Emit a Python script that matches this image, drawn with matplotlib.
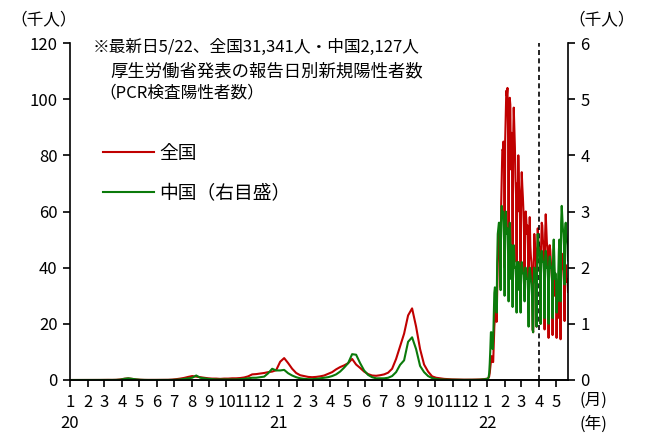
import matplotlib
matplotlib.use('Agg')
import matplotlib.pyplot as plt
import pandas as pd

plt.rcParams['font.family'] = ['Noto Sans CJK JP', 'DejaVu Sans']

# weekly points 2020-01-05 .. 2021-12-26 (thousand persons)
zenkoku_weekly = [
    0, 0, 0, 0, 0, 0.01, 0.01, 0.02, 0.04, 0.05, 0.04, 0.07, 0.2, 0.45, 0.55, 0.4, 0.2, 0.1,
    0.04, 0.03, 0.03, 0.04, 0.04, 0.05, 0.07, 0.15, 0.3, 0.5, 0.75, 1.1, 1.4, 1.2, 1.0, 0.8,
    0.6, 0.5, 0.5, 0.4, 0.5, 0.5, 0.6, 0.6, 0.7, 0.9, 1.3, 2.0, 2.1, 2.3, 2.5, 2.8, 3.0, 3.5,
    6.5, 7.8, 6.0, 4.0, 2.5, 1.7, 1.4, 1.1, 1.0, 1.1, 1.3, 1.6, 2.2, 2.8, 3.8, 4.6, 5.2, 6.0,
    7.5, 5.5, 4.3, 3.0, 2.1, 1.6, 1.5, 1.7, 2.0, 2.6, 4.0, 7.5, 12.0, 16.5, 23.0, 25.5, 19.0,
    11.0, 5.5, 3.0, 1.3, 0.8, 0.6, 0.4, 0.3, 0.22, 0.18, 0.15, 0.12, 0.12, 0.13, 0.16, 0.2, 0.3,
]
chugoku_weekly = [
    0, 0, 0, 0, 0, 0, 0, 0, 0, 0.001, 0.001, 0.002, 0.005, 0.02, 0.03, 0.02, 0.01, 0.003,
    0.001, 0, 0, 0, 0, 0, 0.001, 0.002, 0.005, 0.01, 0.02, 0.03, 0.04, 0.08, 0.04, 0.03,
    0.02, 0.015, 0.01, 0.01, 0.01, 0.01, 0.01, 0.01, 0.015, 0.02, 0.03, 0.04, 0.04, 0.05,
    0.06, 0.12, 0.2, 0.17,
    0.17, 0.18, 0.12, 0.08, 0.05, 0.03, 0.02, 0.015, 0.015, 0.02, 0.03, 0.04, 0.05, 0.07,
    0.1, 0.15, 0.22, 0.3, 0.46, 0.45, 0.3, 0.17, 0.09, 0.05, 0.03, 0.03, 0.03, 0.04, 0.07,
    0.14, 0.27, 0.35, 0.68, 0.76, 0.55, 0.25, 0.14, 0.07, 0.035, 0.02, 0.01, 0.007, 0.005,
    0.004, 0.003, 0.003, 0.002, 0.002, 0.002, 0.003, 0.005, 0.012,
]

# daily 2022-01-01 .. 2022-05-22
zenkoku_2022 = [
    0.5, 0.6, 0.8, 1.3, 2.6, 4.5, 6.2,
    8.5, 8.2, 6.4, 6.4, 13.2, 18.9, 22.0,
    25.7, 25.6, 20.7, 32.2, 41.5, 46.2, 49.9,
    54.6, 50.0, 33.0, 62.6, 71.6, 82.0, 81.8,
    84.9, 78.2, 40.0, 85.4, 95.0, 103.0, 101.3,
    104.0, 89.0, 52.0, 96.0, 100.5, 98.0, 75.0,
    88.0, 79.0, 48.0, 86.0, 97.0, 90.0, 83.0,
    72.0, 66.0, 42.0, 70.0, 60.0, 80.0, 70.0,
    65.0, 57.0, 36.0, 66.0, 74.0, 69.0, 65.0,
    60.0, 52.0, 30.0, 58.0, 60.0, 57.0, 52.0,
    55.0, 46.0, 24.0, 50.0, 58.0, 48.0, 44.0,
    42.0, 36.0, 18.0, 17.0, 41.0, 52.0, 48.0,
    46.0, 42.0, 19.0, 44.0, 54.0, 50.0, 48.0,
    47.0, 42.0, 20.0, 48.0, 56.0, 55.0, 50.0,
    48.0, 44.0, 18.0, 52.0, 59.0, 54.0, 49.0,
    47.0, 40.0, 15.0, 44.0, 48.0, 46.0, 42.0,
    40.0, 36.0, 16.0, 40.0, 42.0, 38.0, 30.0,
    34.0, 30.0, 15.0, 28.0, 22.0, 26.0, 38.0,
    40.0, 33.0, 14.5, 42.0, 45.0, 43.0, 40.0,
    39.0, 35.0, 21.0, 40.0, 41.0, 37.0, 35.0,
    36.0, 31.341,
]
chugoku_2022 = [
    0.02, 0.03, 0.05, 0.12, 0.30, 0.55, 0.85,
    0.85, 0.75, 0.55, 0.7, 1.1, 1.55, 1.65,
    1.6, 1.5, 1.2, 2.1, 2.6, 2.7, 2.8,
    2.8, 2.6, 1.6, 2.9, 3.1, 2.9, 3.0,
    2.8, 2.5, 1.5, 2.6, 3.0, 2.7, 2.6,
    2.7, 2.3, 1.4, 2.5, 2.8, 2.5, 1.8,
    2.4, 2.0, 1.3, 2.2, 2.4, 2.2, 2.0,
    2.0, 1.8, 1.2, 2.1, 1.6, 2.1, 2.0,
    1.9, 1.7, 1.2, 2.0, 2.1, 2.0, 1.9,
    1.9, 1.7, 1.4, 2.0, 2.0, 1.9, 1.8,
    1.8, 1.6, 0.95, 1.9, 2.0, 1.9, 1.8,
    1.7, 1.5, 0.9, 0.85, 1.8, 2.0, 1.9,
    1.8, 1.7, 0.95, 2.1, 2.6, 2.4, 2.3,
    2.2, 2.0, 1.0, 2.2, 2.3, 2.2, 2.1,
    2.1, 1.9, 1.1, 2.2, 2.3, 2.2, 2.0,
    2.0, 1.8, 1.0, 2.1, 2.2, 2.1, 2.0,
    2.0, 1.8, 1.1, 2.3, 2.5, 2.2, 1.8,
    1.9, 1.8, 1.2, 1.6, 1.4, 1.9, 2.3,
    2.5, 2.3, 1.4, 2.8, 3.1, 2.9, 2.7,
    2.6, 2.4, 1.7, 2.7, 2.8, 2.6, 2.5,
    2.4, 2.127,
]

dates = pd.date_range('2020-01-05', periods=len(zenkoku_weekly), freq='7D').append(
    pd.date_range('2022-01-01', periods=len(zenkoku_2022), freq='D'))
zenkoku = zenkoku_weekly + zenkoku_2022
chugoku = chugoku_weekly + chugoku_2022

month_starts = pd.date_range('2020-01-01', '2022-05-01', freq='MS')
month_labels = [str(d.month) for d in month_starts]
year_labels = ['20', '21', '22']
year_dates = pd.to_datetime(['2020-01-01', '2021-01-01', '2022-01-01'])

W, H = 647, 434
fig = plt.figure(figsize=(W / 100, H / 100), dpi=100)
ax = fig.add_axes([70 / W, 1 - 380 / H, (568 - 70) / W, (380 - 43) / H])

red, green = '#C00000', '#0B7A0B'
l1, = ax.plot(dates, zenkoku, color=red, lw=1.5, label='全国')
ax.set_ylim(0, 120)
ax.set_yticks(range(0, 121, 20))
ax.set_xlim(pd.Timestamp('2020-01-01'), pd.Timestamp('2022-05-22'))
ax.set_xticks(month_starts)
ax.set_xticklabels(month_labels)
ax.axvline(pd.Timestamp('2022-04-01'), color='black', lw=1.2, ls=(0, (3, 2)))

ax2 = ax.twinx()
l2, = ax2.plot(dates, chugoku, color=green, lw=1.5, label='中国（右目盛）')
ax2.set_ylim(0, 6)
ax2.set_yticks(range(0, 7))

for a in (ax, ax2):
    a.spines['top'].set_visible(False)
    for s in a.spines.values():
        s.set_linewidth(1.2)
    a.tick_params(direction='out', length=5, width=1.2, labelsize=12, pad=4)
ax.spines['right'].set_visible(False)
ax2.spines['left'].set_visible(False)
ax.tick_params(axis='x', pad=5)

for d, lab in zip(year_dates, year_labels):
    ax.text(d, -(424 - 380) / 337, lab, transform=ax.get_xaxis_transform(),
            ha='center', va='center', fontsize=12)

def px(x, y):
    return x / W, 1 - y / H

fig.text(*px(44, 20), '（千人）', ha='center', va='center', fontsize=12)
fig.text(*px(602, 20), '（千人）', ha='center', va='center', fontsize=12)
fig.text(*px(593, 400), '(月)', ha='center', va='center', fontsize=12)
fig.text(*px(593, 424), '(年)', ha='center', va='center', fontsize=12)

fig.text(*px(93, 47), '※最新日5/22、全国31,341人・中国2,127人', ha='left', va='center', fontsize=12)
fig.text(*px(110, 71), '厚生労働省発表の報告日別新規陽性者数', ha='left', va='center', fontsize=12.5)
fig.text(*px(99, 93), '（PCR検査陽性者数）', ha='left', va='center', fontsize=12)

ax2.legend(handles=[l1, l2], loc='upper left', bbox_to_anchor=px(103, 143),
           bbox_transform=fig.transFigure, frameon=False, fontsize=13.5,
           handlelength=2.7, handletextpad=0.3, labelspacing=1.0,
           borderpad=0, borderaxespad=0)

fig.savefig('out.png', dpi=100)
